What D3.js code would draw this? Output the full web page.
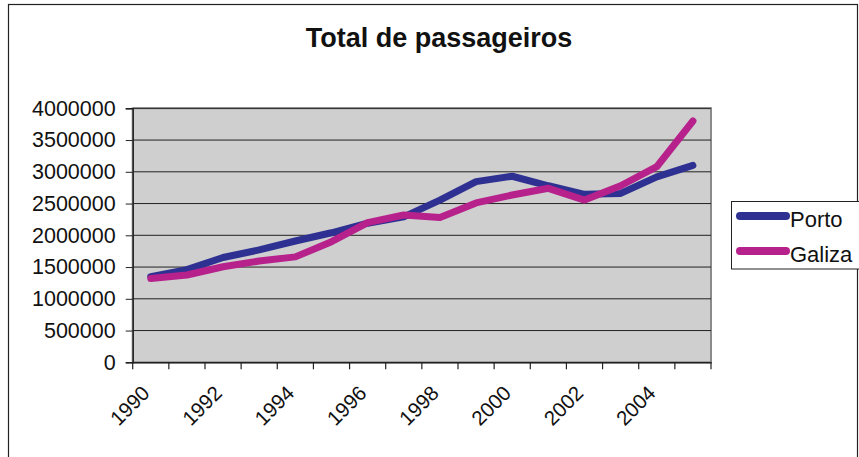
<!DOCTYPE html>
<html><head><meta charset="utf-8">
<script src="https://cdn.jsdelivr.net/npm/d3@7"></script>
<style>body{margin:0;background:#fff}svg{display:block}text{font-family:"Liberation Sans",Arial,sans-serif;fill:#111}</style>
</head><body><svg id="c" width="859" height="457"></svg>
<script>
const years = [1990,1991,1992,1993,1994,1995,1996,1997,1998,1999,2000,2001,2002,2003,2004,2005];
const porto = [1350000,1460000,1650000,1770000,1910000,2040000,2190000,2290000,2555000,2845000,2930000,2780000,2645000,2660000,2920000,3100000];
const galiza = [1320000,1375000,1505000,1595000,1660000,1900000,2200000,2320000,2280000,2510000,2635000,2740000,2555000,2780000,3080000,3800000];
const yTicks = [0,500000,1000000,1500000,2000000,2500000,3000000,3500000,4000000];
const xLabels = [1990,1992,1994,1996,1998,2000,2002,2004];
const seriesNames = ["Porto","Galiza"];
const colors = ["#2e3192","#b7218c"];

const svg = d3.select("#c");
svg.append("rect").attr("x",8.5).attr("y",4.5).attr("width",849).attr("height",460).attr("fill","none").attr("stroke","#222").attr("stroke-width",1.2);

svg.append("text").attr("x",439).attr("y",47).attr("text-anchor","middle").attr("font-size",27).attr("font-weight","bold").text("Total de passageiros");

const L=132.7,R=711,T=108.3,B=362.3;
const x = d3.scaleBand().domain(years).range([L,R]);
const y = d3.scaleLinear().domain([0,4000000]).range([B,T]);

svg.append("rect").attr("x",L).attr("y",T).attr("width",R-L).attr("height",B-T).attr("fill","#cfcfcf").attr("stroke","#8a8a8a").attr("stroke-width",2);

svg.append("g").selectAll("line").data(yTicks.slice(1)).join("line")
  .attr("x1",L).attr("x2",R).attr("y1",d=>y(d)).attr("y2",d=>y(d)).attr("stroke","#222").attr("stroke-width",1);

const ya = svg.append("g").attr("transform",`translate(${L},0)`)
  .call(d3.axisLeft(y).tickValues(yTicks).tickFormat(d3.format("d")).tickSize(7).tickPadding(10));
ya.select(".domain").attr("stroke","#222").attr("stroke-width",1.5);
ya.selectAll(".tick line").attr("stroke","#222");
ya.selectAll("text").attr("font-size",21.5).attr("font-family","Liberation Sans, Arial").attr("fill","#111");

const xa = svg.append("g").attr("transform",`translate(0,${B})`)
  .call(d3.axisBottom(x).tickValues([]).tickSizeOuter(0));
xa.select(".domain").attr("stroke","#222").attr("stroke-width",1.5);
const edges = years.map(d=>x(d)).concat([R]);
svg.append("g").selectAll("line").data(edges).join("line")
  .attr("x1",d=>d).attr("x2",d=>d).attr("y1",B).attr("y2",B+7).attr("stroke","#222").attr("stroke-width",1.2);

svg.append("g").selectAll("text").data(xLabels).join("text")
  .attr("transform",d=>`translate(${x(d)+x.bandwidth()/2-10},${B+22}) rotate(-45)`)
  .attr("text-anchor","end").attr("dy","0.7em").attr("font-size",20.5).text(d=>d);

const line = d3.line().x((d,i)=>x(years[i])+x.bandwidth()/2).y(d=>y(d));
[porto,galiza].forEach((s,i)=>{
  svg.append("path").datum(s).attr("d",line).attr("fill","none").attr("stroke",colors[i])
    .attr("stroke-width",7).attr("stroke-linecap","round").attr("stroke-linejoin","round");
});

const lg = svg.append("g");
lg.append("rect").attr("x",731.5).attr("y",201.5).attr("width",130).attr("height",67.5).attr("fill","#fff").attr("stroke","#222").attr("stroke-width",1);
seriesNames.forEach((n,i)=>{
  const yy = 216 + i*35;
  lg.append("line").attr("x1",740).attr("x2",786).attr("y1",yy).attr("y2",yy).attr("stroke",colors[i]).attr("stroke-width",8).attr("stroke-linecap","round");
  lg.append("text").attr("x",790).attr("y",yy+11).attr("font-size",22).text(n);
});
</script></body></html>
